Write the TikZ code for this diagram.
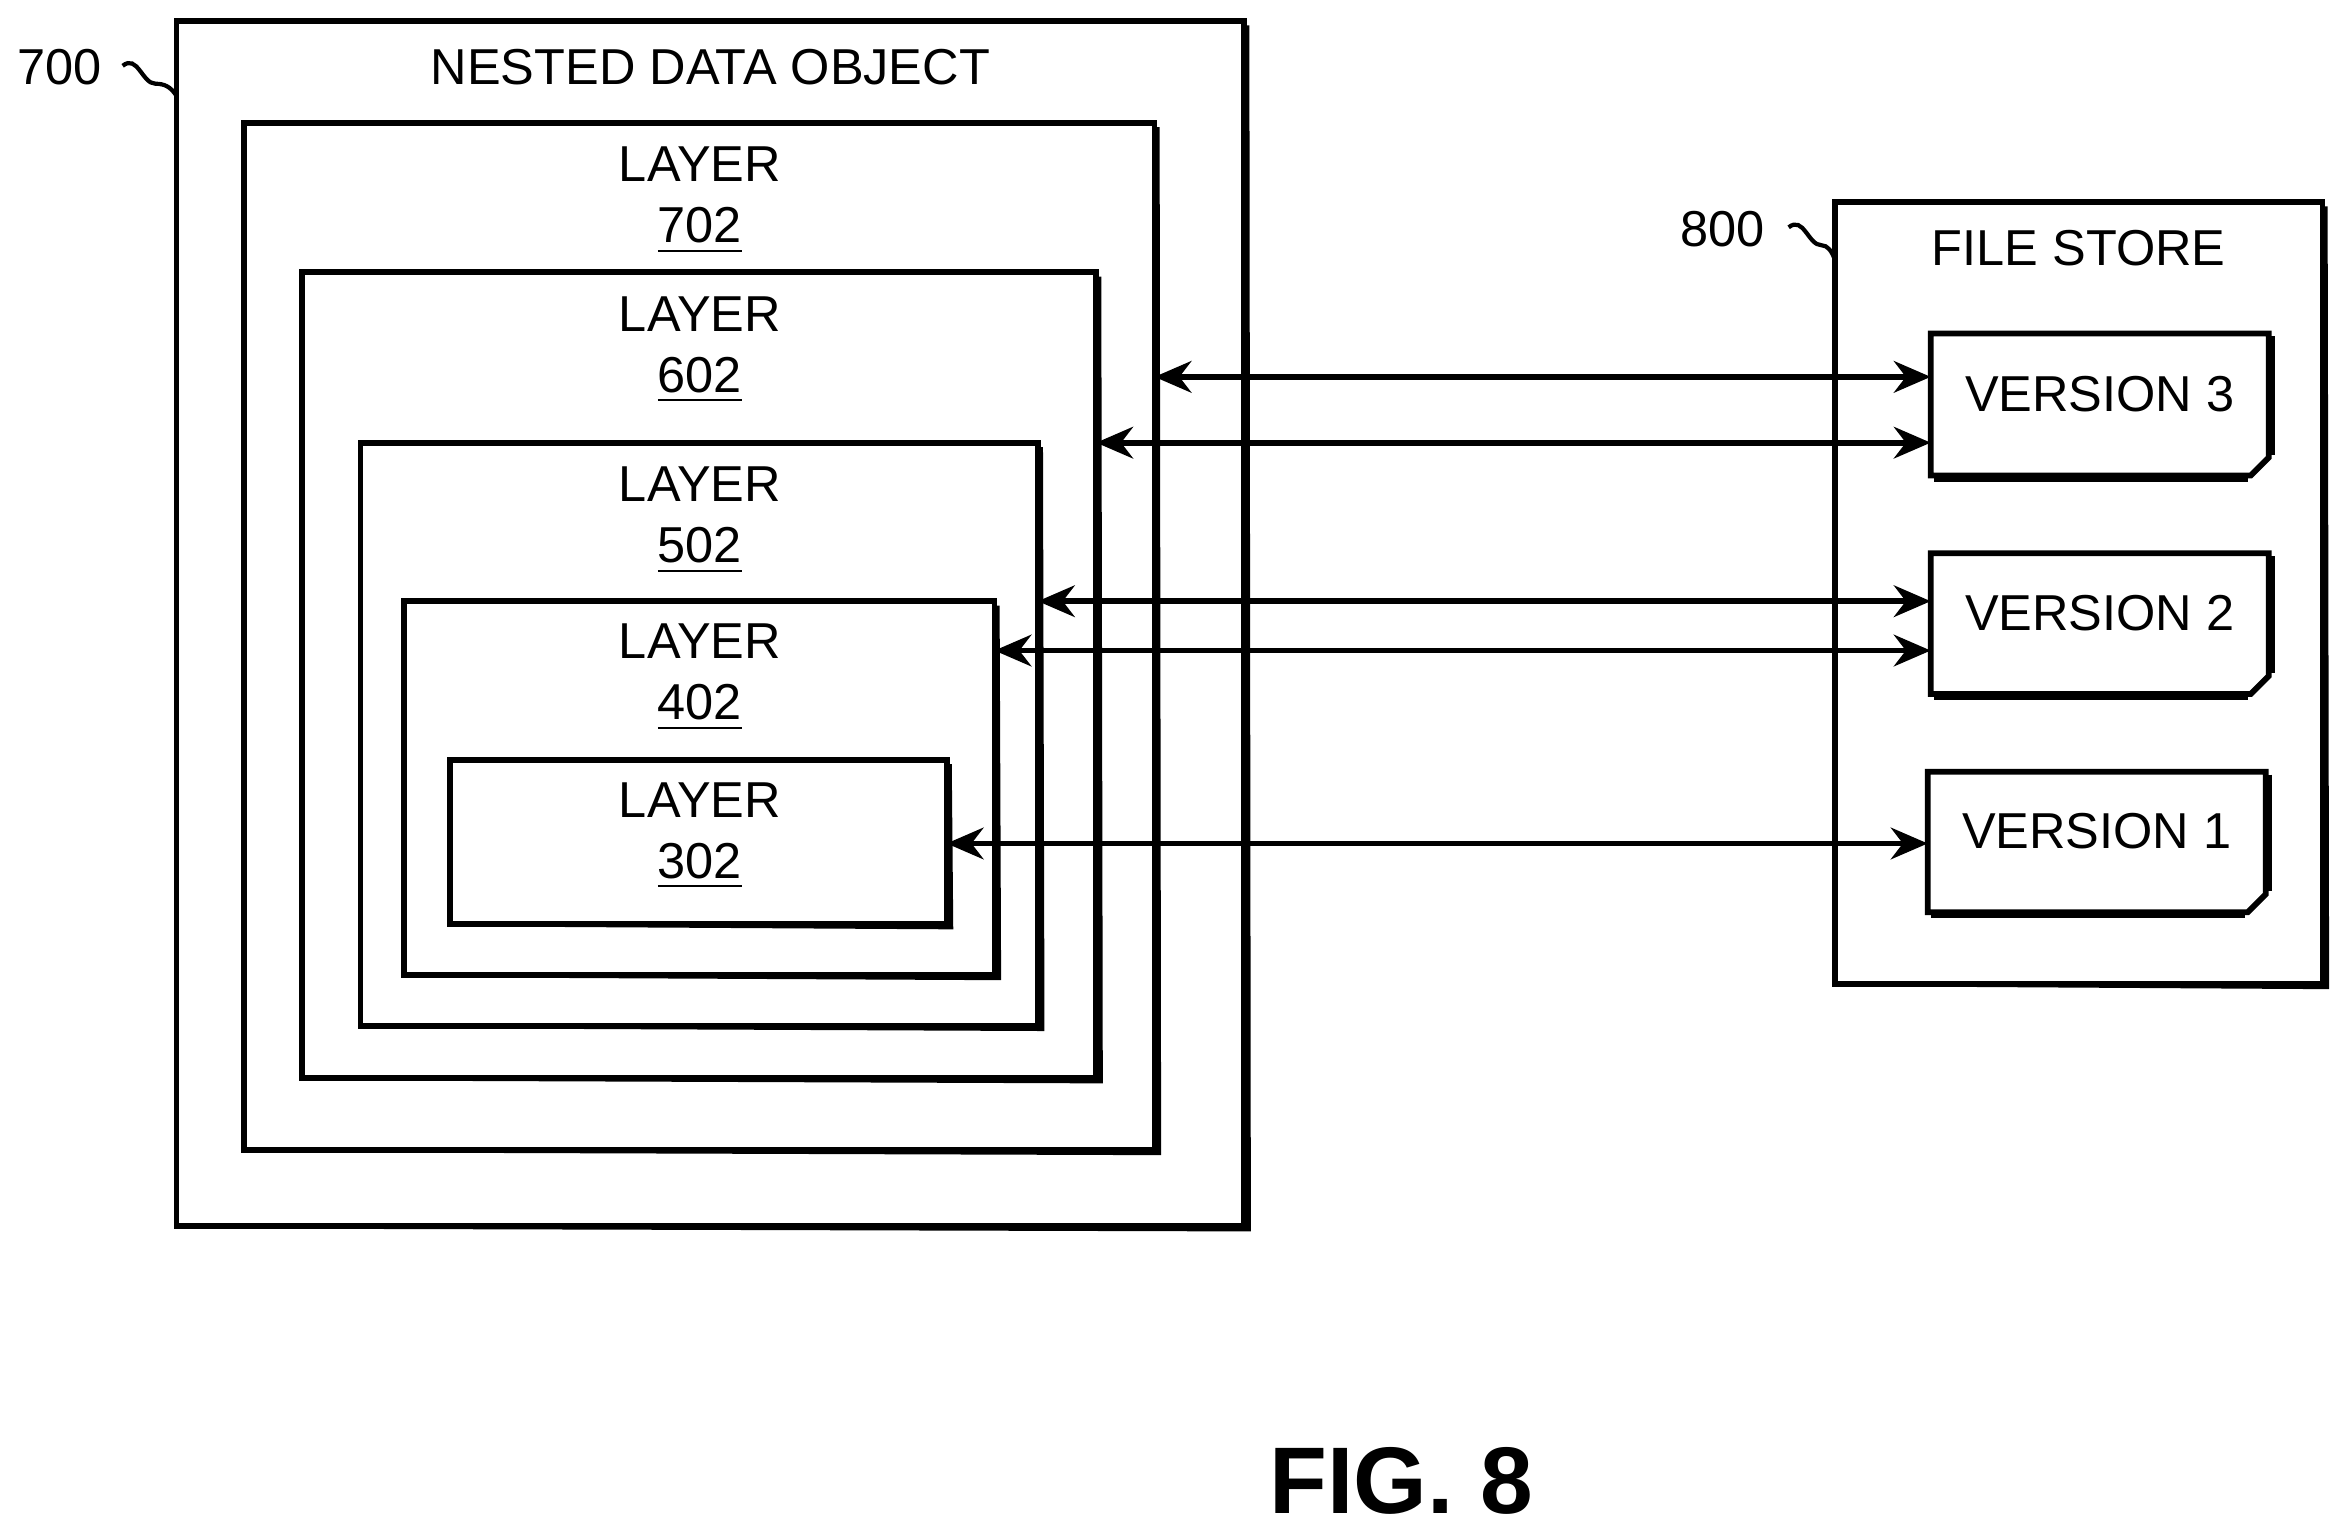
\documentclass[tikz,border=0pt]{standalone}
\usepackage{fontspec}
\setmainfont{Liberation Sans}
\usetikzlibrary{arrows.meta}
\begin{document}
\begin{tikzpicture}[x=0.01cm,y=-0.01cm,
  lbl/.style={font=\fontsize{9.6}{11.6}\selectfont},
  arr/.style={line width=1.1pt,{Stealth[length=7pt,width=6pt]}-{Stealth[length=7pt,width=6pt]}}]
\useasboundingbox (0,0) rectangle (1562,1021);
\newcommand{\shbox}[5]{% name, x1,y1,x2,y2
  \draw[line width=0.8pt] (#2+3,#5) -- (#4+3,#5+2) -- (#4+2,#3+3);
  \draw[line width=1.1pt,fill=white] (#2,#3) rectangle (#4,#5);
  \coordinate (#1-nw) at (#2,#3); \coordinate (#1-se) at (#4,#5);
  \coordinate (#1-e) at (#4,#3); \coordinate (#1-w) at (#2,#3);}
\shbox{o}{118}{14}{832}{820}
\shbox{l7}{163}{82}{772}{769}
\shbox{l6}{202}{182}{733}{721}
\shbox{l5}{241}{296}{694}{686}
\shbox{l4}{270}{402}{665}{652}
\shbox{l3}{301}{508}{633}{618}
\shbox{fs}{1227}{135}{1553}{658}
\newcommand{\verbox}[6]{% name x1 y1 x2 y2 text
  \draw[line width=1.8pt] (#2+2,#5+1) -- (#4-14,#5+1) (#4+1,#3+2) -- (#4+1,#5-14);
  \draw[line width=1.1pt,fill=white] (#2,#3) -- (#4,#3) -- (#4,#5-12) -- (#4-12,#5) -- (#2,#5) -- cycle;
  \draw[line width=0.8pt] (#4,#5-12) -- (#4-12,#5);
  \node[lbl] (#1) at ({(#2+#4)/2},{(#3+#5)/2-7}) {#6};
  \coordinate (#1-w) at (#2,#3);}
\verbox{v3}{1291}{223}{1517}{318}{VERSION 3}
\verbox{v2}{1291}{370}{1517}{464}{VERSION 2}
\verbox{v1}{1289}{516}{1515}{610}{VERSION 1}
\node[lbl] (t0) at (475,45) {NESTED DATA OBJECT};
\node[lbl,align=center] (t7) at (468,134) {LAYER\\\underline{702}};
\node[lbl,align=center] (t6) at (468,234) {LAYER\\\underline{602}};
\node[lbl,align=center] (t5) at (468,348) {LAYER\\\underline{502}};
\node[lbl,align=center] (t4) at (468,453) {LAYER\\\underline{402}};
\node[lbl,align=center] (t3) at (468,559) {LAYER\\\underline{302}};
\node[lbl] (tf) at (1390,166) {FILE STORE};
\node[lbl] (n700) at (40,45) {700};
\node[lbl] (n800) at (1152,153) {800};
\draw[line width=0.8pt] (82,44) .. controls (92,36) and (95,56) .. (104,56) .. controls (110,56) and (114,58) .. (118,64);
\draw[line width=0.8pt] (1196,152) .. controls (1206,144) and (1209,164) .. (1218,164) .. controls (1222,164) and (1225,168) .. (1227,174);
\draw[arr] (l7-e |- 0,252) -- (v3-w |- 0,252);
\draw[arr] (l6-e |- 0,296) -- (v3-w |- 0,296);
\draw[arr] (l5-e |- 0,402) -- (v2-w |- 0,402);
\draw[arr] (l4-e |- 0,435) -- (v2-w |- 0,435);
\draw[arr] (l3-e |- 0,564) -- (v1-w |- 0,564);
\node[font=\bfseries\fontsize{18}{20}\selectfont] (fig) at (937,990) {FIG. 8};
\end{tikzpicture}
\end{document}
